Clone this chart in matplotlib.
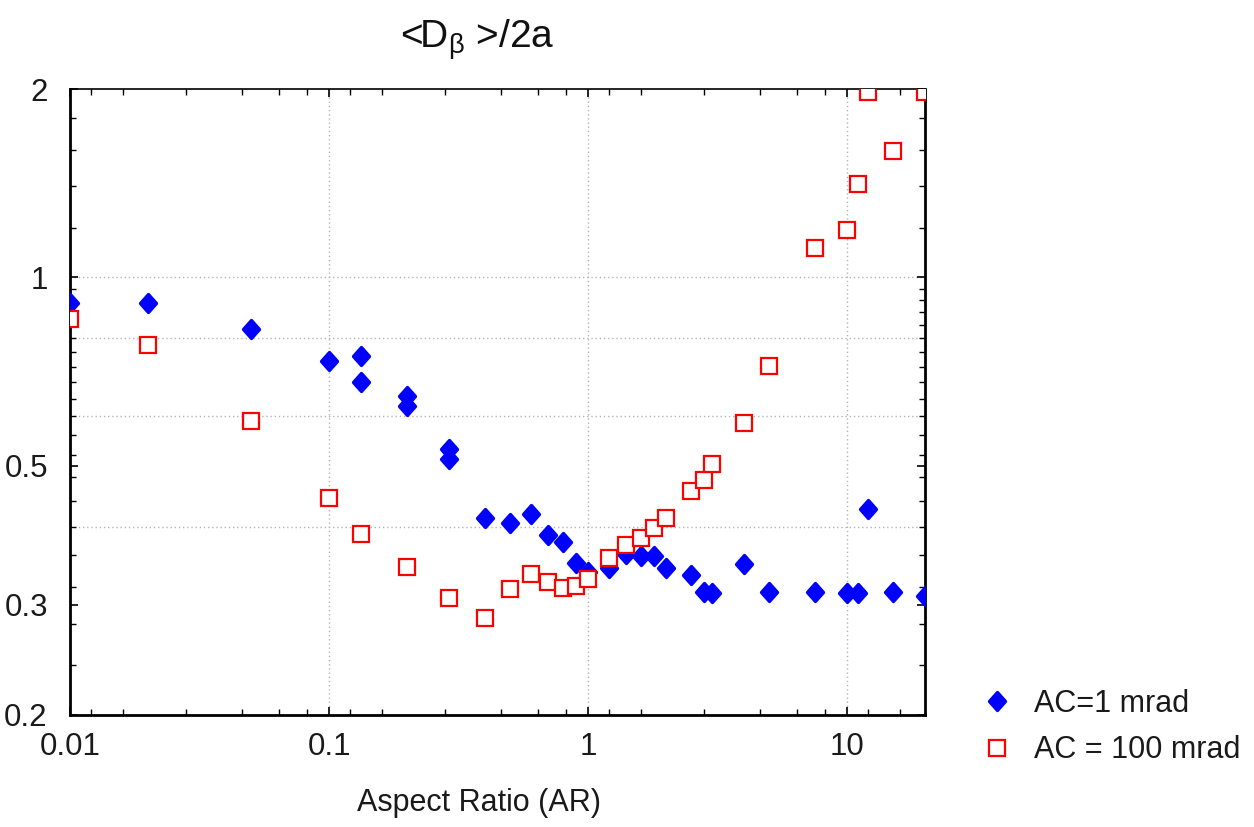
import numpy as np
import matplotlib
matplotlib.use("Agg")
import matplotlib.pyplot as plt
from matplotlib.ticker import FixedLocator, NullFormatter
from matplotlib.markers import MarkerStyle
from matplotlib.transforms import Affine2D

plt.rcParams['font.family'] = ['Liberation Sans', 'DejaVu Sans']

# AC = 1 mrad
ar_ac1 = [0.01, 0.02, 0.05, 0.1, 0.133, 0.133, 0.2, 0.2, 0.29, 0.29, 0.4, 0.5,
          0.6, 0.7, 0.8, 0.9, 1.0, 1.2, 1.4, 1.6, 1.8, 2.0, 2.5, 2.8, 3.0, 4.0,
          5.0, 7.5, 10.0, 11.0, 12.0, 15.0, 20.0]
d_ac1 = [0.91, 0.91, 0.828, 0.736, 0.749, 0.68, 0.647, 0.623, 0.532, 0.513,
         0.413, 0.405, 0.419, 0.388, 0.378, 0.35, 0.338, 0.343, 0.361, 0.359,
         0.359, 0.343, 0.335, 0.315, 0.313, 0.349, 0.315, 0.315, 0.313, 0.313,
         0.426, 0.315, 0.310]

# AC = 100 mrad
ar_ac100 = [0.01, 0.02, 0.05, 0.1, 0.133, 0.2, 0.29, 0.4, 0.5, 0.6, 0.7, 0.8,
            0.9, 1.0, 1.2, 1.4, 1.6, 1.8, 2.0, 2.5, 2.8, 3.0, 4.0, 5.0, 7.5,
            10.0, 11.0, 12.0, 15.0, 20.0]
d_ac100 = [0.858, 0.78, 0.59, 0.444, 0.389, 0.345, 0.308, 0.286, 0.318, 0.336,
           0.326, 0.319, 0.321, 0.330, 0.356, 0.374, 0.384, 0.398, 0.413, 0.456,
           0.475, 0.504, 0.585, 0.722, 1.113, 1.19, 1.41, 1.98, 1.59, 1.98]

y_tick_vals = [0.2, 0.3, 0.5, 1, 2]
y_tick_text = ["0.2", "0.3", "0.5", "1", "2"]
x_tick_vals = [0.01, 0.1, 1, 10]
x_tick_text = ["0.01", "0.1", "1", "10"]
y_grid_vals = [0.4, 0.6, 0.8, 1.0]
x_grid_vals = [0.1, 1, 10]

fig = plt.figure(figsize=(12.54, 8.27), dpi=100)
ax = fig.add_axes([70 / 1254, 1 - 715 / 827, 855 / 1254, 626 / 827])

ax.set_xscale('log')
ax.set_yscale('log')
ax.set_xlim(0.01, 20)
ax.set_ylim(0.2, 2)

grid_kw = dict(color='#b4b4b4', lw=1.0, ls=(0, (1, 2)), zorder=1)
for gy in y_grid_vals:
    ax.axhline(gy, **grid_kw)
for gx in x_grid_vals:
    ax.axvline(gx, **grid_kw)

# slightly tall diamond with rounded corners
diamond = MarkerStyle('D', joinstyle='round',
                      transform=Affine2D().scale(0.92, 1.06))

ax.plot(ar_ac1, d_ac1, ls='none', marker=diamond, ms=8.8, mfc='#0000ff',
        mec='#0000ff', mew=2.4, label='AC=1 mrad', zorder=3)
ax.plot(ar_ac100, d_ac100, ls='none', marker='s', ms=11.3, mfc='white',
        mec='#ff0000', mew=1.6, label='AC = 100 mrad', zorder=4)

ax.set_yticks(y_tick_vals)
ax.set_yticklabels(y_tick_text)
ax.set_xticks(x_tick_vals)
ax.set_xticklabels(x_tick_text)

# linear-step minor ticks inside each decade
x_minor = []
for dec in [0.01, 0.1, 1, 10]:
    for f in [1.2, 1.6, 2.8, 4.6, 6.4, 8.2]:
        v = dec * f
        if v < 20:
            x_minor.append(v)
y_minor = list(np.round(np.arange(0.2, 1.0001, 0.04), 3)) + [1.2, 1.4, 1.6, 1.8]
ax.xaxis.set_minor_locator(FixedLocator(x_minor))
ax.yaxis.set_minor_locator(FixedLocator(y_minor))
ax.xaxis.set_minor_formatter(NullFormatter())
ax.yaxis.set_minor_formatter(NullFormatter())

ax.tick_params(which='both', direction='in', top=True, right=True,
               color='black')
ax.tick_params(which='major', length=6, width=1.2, labelsize=22.5,
               labelcolor='#1a1a1a', pad=12)
ax.tick_params(which='minor', length=4, width=1.0)
ax.tick_params(axis='y', which='major', pad=16)

for side in ['left', 'bottom', 'right']:
    ax.spines[side].set_linewidth(2.0)
ax.spines['top'].set_linewidth(1.2)
for sp in ax.spines.values():
    sp.set_color('black')

fig.text(477 / 1254, 1 - 40 / 827, r'<D$_{\mathregular{β}}$ >/2a',
         ha='center', va='center', fontsize=28, color='#111111')
fig.text(479 / 1254, 1 - 803 / 827, 'Aspect Ratio (AR)', ha='center',
         va='center', fontsize=22, color='#1a1a1a')

fig.legend(loc='center left', bbox_to_anchor=(982 / 1254, 1 - 727 / 827),
           frameon=False, fontsize=22, handlelength=1.0, handletextpad=0.7,
           labelspacing=0.55, markerscale=1.0, labelcolor='#1a1a1a',
           borderaxespad=0, borderpad=0)

fig.savefig('out.png', dpi=100)
